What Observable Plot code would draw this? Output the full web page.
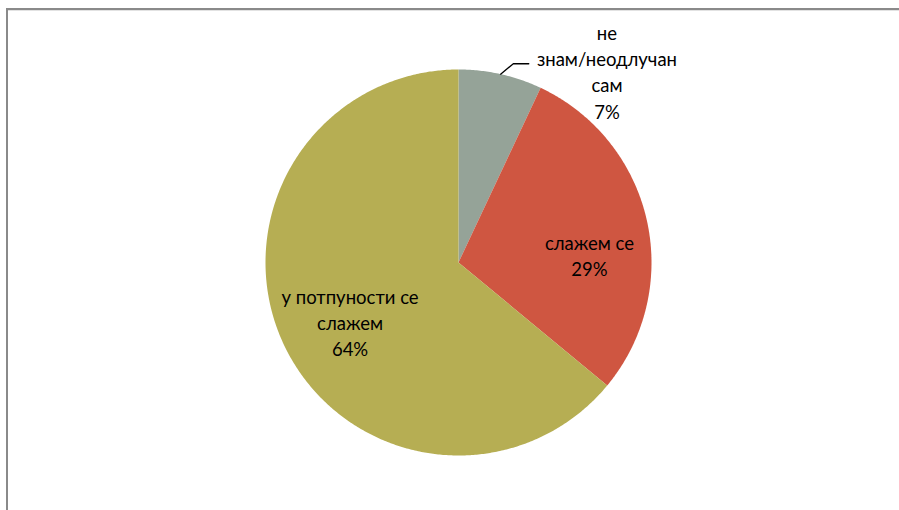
<!DOCTYPE html>
<html>
<head>
<meta charset="utf-8">
<script src="https://cdn.jsdelivr.net/npm/d3@7"></script>
<script src="https://cdn.jsdelivr.net/npm/@observablehq/plot@0.6"></script>
<style>
  html, body { margin: 0; padding: 0; background: #ffffff; }
  #wrap { position: relative; width: 899px; height: 510px; overflow: hidden; }
  #frame { position: absolute; left: 6px; top: 8px; right: -4px; bottom: -4px;
           border-left: 2px solid #8a8a8a; border-top: 2px solid #8a8a8a; }
  #frame::after { content: ""; position: absolute; left: 0; right: 0; top: 0; height: 1px; background: #e2e2e2; }
  #chart { position: absolute; left: 0; top: 0; }
</style>
</head>
<body>
<div id="wrap"><div id="frame"></div><div id="chart"></div></div>
<script>
// ---- data ----
const categories = ["не знам/неодлучан сам", "слажем се", "у потпуности се слажем"];
const values = [7, 29, 64];
const labelTexts = ["не\nзнам/неодлучан\nсам", "слажем се", "у потпуности се\nслажем"];
const colors = ["#95a398", "#cf5641", "#b6ae53"];

// ---- layout ----
const W = 899, H = 510;
const cx = 458, cy = 262, R = 193;
// label placement (polar: angle in degrees from 12 o'clock, radius as fraction of R)
const labelPolar = [[37.8, 1.255], [86.5, 0.68], [241.4, 0.64]];
const FONT = "Lato, 'Noto Sans', sans-serif";

const arcs = d3.pie().sort(null)(values);
const rad = (d) => d * Math.PI / 180;

// slice outlines in unit coordinates
const slicePts = [];
arcs.forEach((a, i) => {
  const cat = categories[i];
  slicePts.push({cat, x: 0, y: 0});
  const n = Math.max(4, Math.ceil((a.endAngle - a.startAngle) / rad(0.5)));
  for (let k = 0; k <= n; k++) {
    const t = a.startAngle + (a.endAngle - a.startAngle) * k / n;
    slicePts.push({cat, x: Math.sin(t), y: Math.cos(t)});
  }
  slicePts.push({cat, x: 0, y: 0});
});

const labels = arcs.map((a, i) => {
  const pct = Math.round(100 * (a.endAngle - a.startAngle) / (2 * Math.PI));
  const [ang, r] = labelPolar[i];
  return {cat: categories[i], text: labelTexts[i] + "\n" + pct + "%",
          x: r * Math.sin(rad(ang)), y: r * Math.cos(rad(ang))};
});

// leader line for the small slice
const g = arcs[0];
const mid = (g.startAngle + g.endAngle) / 2;
const sx = Math.sin(mid), sy = Math.cos(mid);
const leader = [
  {x: sx, y: sy},
  {x: sx + 0.066, y: sy + 0.054},
  {x: sx + 0.146, y: sy + 0.054}
];

const plot = Plot.plot({
  width: W, height: H,
  margin: 0,
  style: {background: "transparent", fontFamily: FONT},
  x: {domain: [-1, 1], range: [cx - R, cx + R], axis: null},
  y: {domain: [-1, 1], range: [cy + R, cy - R], axis: null},
  color: {domain: categories, range: colors},
  marks: [
    Plot.line(slicePts, {x: "x", y: "y", z: "cat", fill: "cat", stroke: null, curve: "linear"}),
    Plot.line(leader, {x: "x", y: "y", stroke: "#000", strokeWidth: 1.3}),
    Plot.text(labels, {x: "x", y: "y", text: "text", fontSize: 18.5, lineHeight: 1.41,
                       fill: "#000", textAnchor: "middle", fontFamily: FONT})
  ]
});
document.getElementById("chart").appendChild(plot);
</script>
</body>
</html>
